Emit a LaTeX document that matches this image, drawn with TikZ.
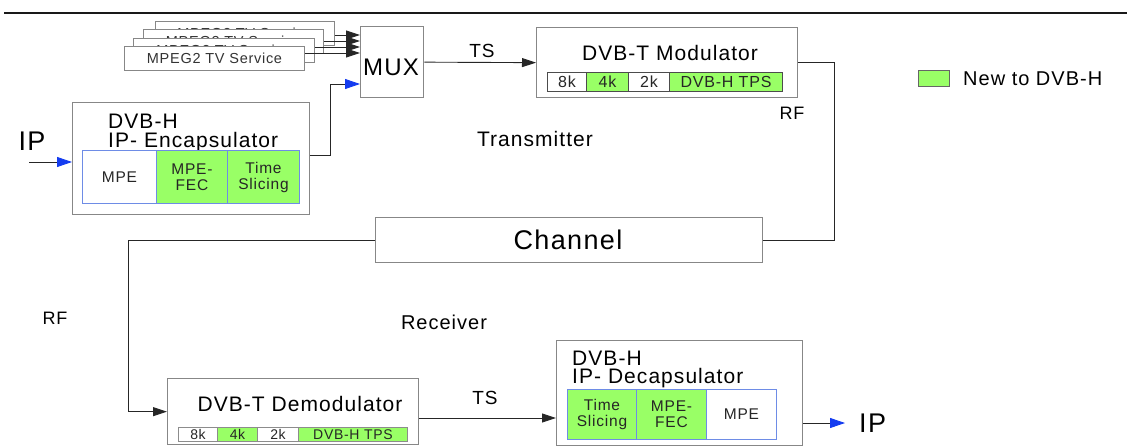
\documentclass[tikz,border=0pt]{standalone}
\usepackage{fontspec}
\setmainfont[LetterSpace=5]{Liberation Sans}
\usetikzlibrary{arrows.meta}
\definecolor{newgreen}{RGB}{153,255,102}
\definecolor{boxgray}{RGB}{135,135,135}
\definecolor{cellblue}{RGB}{110,140,230}
\definecolor{arrowblue}{RGB}{20,60,240}
\newcommand{\fsz}[1]{\fontsize{#1}{#1}\selectfont}
\tikzset{
  box/.style={draw=boxgray, line width=1.3pt, fill=white, inner sep=0pt, anchor=north west},
  svc/.style={box, line width=1pt, font=\fsz{14.5}, text=black!80},
  bluecell/.style={draw=cellblue, line width=1pt, inner sep=0pt, anchor=north west, align=center, font=\fontsize{15.5}{16}\selectfont, text=black!85},
  darkcell/.style={draw=black!70, line width=1pt, inner sep=0pt, anchor=north west, font=\fsz{16}, text=black!85},
  conn/.style={draw=black!85, line width=0.9pt},
  tip/.style={-{Triangle[length=14pt,width=9pt]}},
  bluetip/.style={-{Triangle[length=15pt,width=10pt,color=arrowblue]}},
  lbl/.style={inner sep=0pt, anchor=base, text=black}
}
\begin{document}
\begin{tikzpicture}[x=1pt,y=-1pt]
\useasboundingbox (0,0) rectangle (1127,447);
% top rule
\draw[black!90, line width=1.3pt] (4,13) -- (1127,13);

% MPEG2 TV service stack
\node[svc, minimum width=179, minimum height=24] (s4) at (155,21) {MPEG2 TV Service};
\node[svc, minimum width=180, minimum height=24] (s3) at (143,29) {MPEG2 TV Service};
\node[svc, minimum width=181, minimum height=24] (s2) at (133,38) {MPEG2 TV Service};
\node[svc, minimum width=180, minimum height=24] (s1) at (124,46) {MPEG2 TV Service};

% MUX
\node[box, minimum width=63, minimum height=71] (mux) at (360,26) {};
\node[lbl, font=\fsz{24}] (muxt) at (391,75) {MUX};

\draw[conn,tip] (s4.east |- 0,35) -- (mux.west |- 0,35);
\draw[conn,tip] (s3.east |- 0,41) -- (mux.west |- 0,41);
\draw[conn,tip] (s2.east |- 0,47) -- (mux.west |- 0,47);
\draw[conn,tip] (s1.east |- 0,53) -- (mux.west |- 0,53);

% Encapsulator
\node[box, minimum width=237, minimum height=112] (enc) at (72,102) {};
\node[lbl, anchor=base west, font=\fsz{21}] (enct1) at (108,128) {DVB-H};
\node[lbl, anchor=base west, font=\fsz{21}] (enct2) at (108,147) {IP- Encapsulator};
\node[bluecell, fill=white, minimum width=74, minimum height=53] (e1) at (82,150) {MPE};
\node[bluecell, fill=newgreen, minimum width=71, minimum height=53] (e2) at (156,150) {MPE-\\FEC};
\node[bluecell, fill=newgreen, minimum width=72, minimum height=53] (e3) at (227,150) {Time\\Slicing};

% IP in
\node[lbl, font=\fsz{27}] (ipin) at (32,150) {IP};
\coordinate (ipstart) at (29,162);
\draw[conn,bluetip] (ipstart) -- (enc.west |- ipstart);

% Enc -> MUX
\coordinate (muxin) at (360,84);
\draw[conn,bluetip] (enc.east |- 0,155) -- (330,155) -- (330,84) -- (muxin);

% Modulator
\node[box, minimum width=261, minimum height=70] (mod) at (536,27) {};
\node[lbl, font=\fsz{21}] (modt) at (670,60) {DVB-T Modulator};
\node[darkcell, fill=white, minimum width=39, minimum height=19] (m1) at (547,72) {8k};
\node[darkcell, fill=newgreen, minimum width=42, minimum height=19] (m2) at (586,72) {4k};
\node[darkcell, fill=white, minimum width=41, minimum height=19] (m3) at (628,72) {2k};
\node[darkcell, fill=newgreen, minimum width=113, minimum height=19] (m4) at (669,72) {DVB-H TPS};

\draw[conn,tip] (mux.east) -- (mod.west);
\node[lbl, font=\fsz{19}] (ts1) at (482,57) {TS};

% Legend
\node[draw=black!60, line width=1pt, fill=newgreen, inner sep=0pt, anchor=north west, minimum width=31, minimum height=16] (leg) at (918,70) {};
\node[lbl, anchor=base west, font=\fsz{20}] (legt) at (963,85) {New to DVB-H};

% labels
\node[lbl, font=\fsz{18}] (rf1) at (792,119) {RF};
\node[lbl, font=\fsz{21}] (tx) at (535,146) {Transmitter};

% Channel
\node[box, minimum width=387, minimum height=45] (chan) at (375,217) {};
\node[lbl, font=\fsz{27}] (chant) at (568,249) {Channel};
\draw[conn] (mod.east) -- ++(36,0) |- (chan.east);

\node[lbl, font=\fsz{18}] (rf2) at (55,324) {RF};
\node[lbl, font=\fsz{20}] (rx) at (444,329) {Receiver};

% Demodulator
\node[box, minimum width=251, minimum height=66] (demod) at (167,378) {};
\node[lbl, font=\fsz{21}] (demodt) at (300,411) {DVB-T Demodulator};
\node[darkcell, draw=black!45, fill=white, minimum width=39, minimum height=14, font=\fsz{14}] (d1) at (178,427) {8k};
\node[darkcell, draw=black!45, fill=newgreen, minimum width=40, minimum height=14, font=\fsz{14}] (d2) at (217,427) {4k};
\node[darkcell, draw=black!45, fill=white, minimum width=41, minimum height=14, font=\fsz{14}] (d3) at (257,427) {2k};
\node[darkcell, draw=black!45, fill=newgreen, minimum width=109, minimum height=14, font=\fsz{14}] (d4) at (298,427) {DVB-H TPS};

\draw[conn,tip] (chan.west) -- ++(-247,0) |- (demod.west);

% Decapsulator
\node[box, minimum width=246, minimum height=105] (dec) at (556,340) {};
\node[lbl, anchor=base west, font=\fsz{21}] (dect1) at (572,365) {DVB-H};
\node[lbl, anchor=base west, font=\fsz{21}] (dect2) at (572,383) {IP- Decapsulator};
\node[bluecell, fill=newgreen, minimum width=69, minimum height=50] (c1) at (567,389) {Time\\Slicing};
\node[bluecell, fill=newgreen, minimum width=70, minimum height=50] (c2) at (636,389) {MPE-\\FEC};
\node[bluecell, fill=white, minimum width=70, minimum height=50] (c3) at (706,389) {MPE};

\draw[conn,tip] (demod.east |- 0,418) -- (dec.west |- 0,418);
\node[lbl, font=\fsz{19}] (ts2) at (485,404) {TS};

% IP out
\coordinate (ipend) at (845,423);
\draw[conn,bluetip] (dec.east |- ipend) -- (ipend);
\node[lbl, anchor=west, font=\fsz{27}] (ipout) at (859,423) {IP};
\end{tikzpicture}
\end{document}
